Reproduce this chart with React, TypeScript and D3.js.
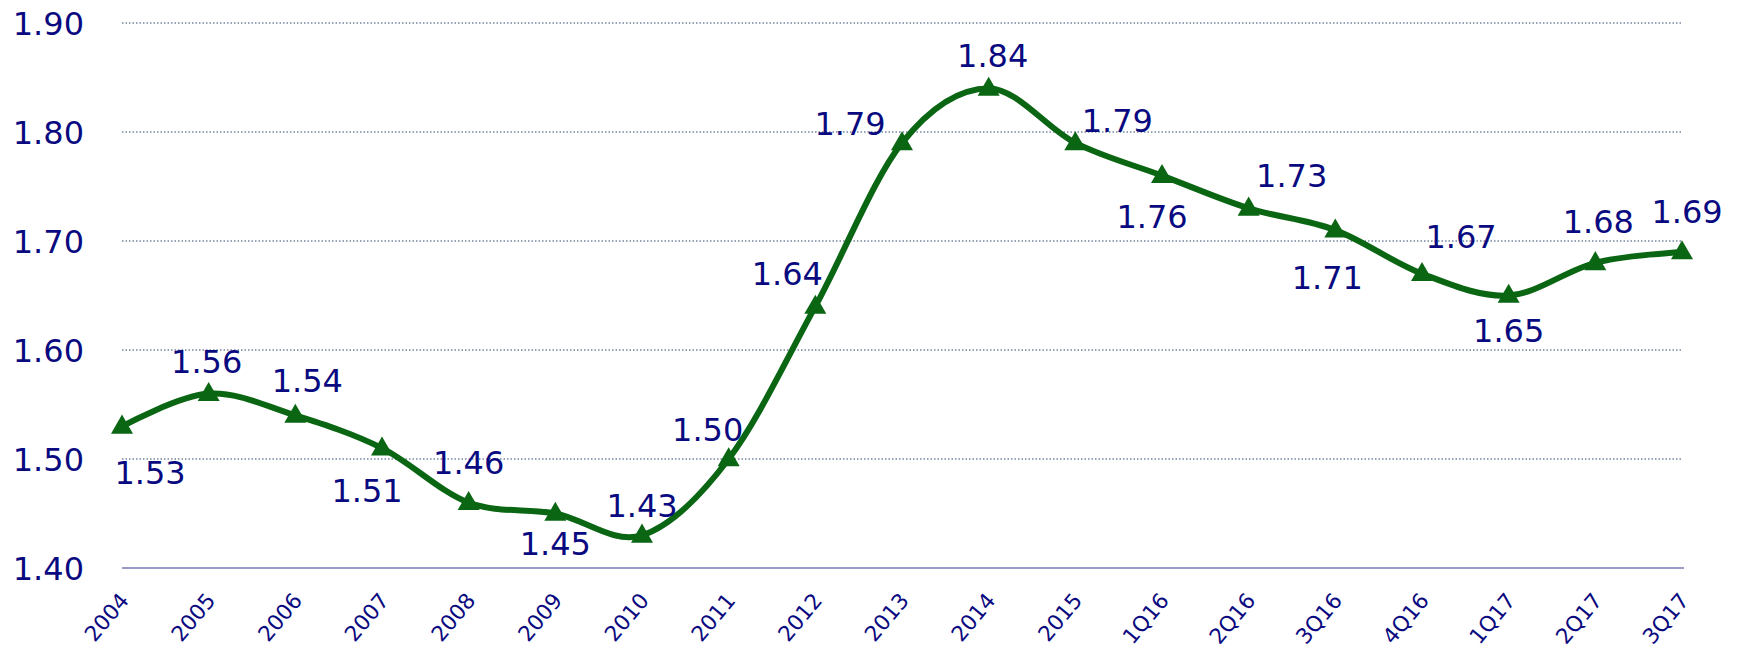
import React, { useEffect, useRef } from 'react';
import * as d3 from 'd3';

const categories = ['2004', '2005', '2006', '2007', '2008', '2009', '2010', '2011', '2012', '2013', '2014', '2015', '1Q16', '2Q16', '3Q16', '4Q16', '1Q17', '2Q17', '3Q17'];
const values = [1.53, 1.56, 1.54, 1.51, 1.46, 1.45, 1.43, 1.5, 1.64, 1.79, 1.84, 1.79, 1.76, 1.73, 1.71, 1.67, 1.65, 1.68, 1.69];
const yTicks = [1.4, 1.5, 1.6, 1.7, 1.8, 1.9];

// where each data label sits relative to its point (dx, dy)
const labelOffsets: [number, number][] = [
  [28, 46], [-2, -32], [12, -35], [-15, 42], [0, -40], [0, 30], [0, -30], [-21, -30],
  [-28, -33], [-52, -19], [4, -33], [42, -22], [-10, 41], [43, -33], [-8, 47], [39, -37],
  [0, 35], [3, -41], [5, -40],
];

const W = 1739;
const H = 651;
const navy = '#0a0a80';
const green = '#0b6614';
const font = 'DejaVu Sans, Verdana, sans-serif';

export default function App() {
  const ref = useRef<SVGSVGElement>(null);

  useEffect(() => {
    document.body.style.margin = '0';
    const svg = d3.select(ref.current);
    svg.selectAll('*').remove();

    const x = d3.scalePoint<string>().domain(categories).range([122, 1682]);
    const y = d3.scaleLinear().domain([1.4, 1.9]).range([568, 23]);

    // gridlines
    svg.append('g')
      .selectAll('line')
      .data(yTicks.slice(1))
      .enter()
      .append('line')
      .attr('x1', 122)
      .attr('x2', 1682)
      .attr('y1', (d) => y(d))
      .attr('y2', (d) => y(d))
      .style('stroke', '#7585a0')
      .style('stroke-width', 1.4)
      .style('stroke-dasharray', '1.5,2');

    // baseline
    svg.append('line')
      .attr('x1', 122)
      .attr('x2', 1684)
      .attr('y1', y(1.4))
      .attr('y2', y(1.4))
      .style('stroke', '#9a9ac8')
      .style('stroke-width', 2);

    // y labels
    svg.append('g')
      .selectAll('text')
      .data(yTicks)
      .enter()
      .append('text')
      .attr('x', 84)
      .attr('y', (d) => y(d))
      .attr('dy', '0.36em')
      .attr('text-anchor', 'end')
      .style('font-family', font)
      .style('font-size', 32)
      .style('fill', navy)
      .text((d) => d.toFixed(2));

    // x labels
    svg.append('g')
      .selectAll('text')
      .data(categories)
      .enter()
      .append('text')
      .attr('transform', (d) => `translate(${(x(d) as number) + 8},${601}) rotate(-50)`)
      .attr('text-anchor', 'end')
      .style('font-family', font)
      .style('font-size', 21.5)
      .style('fill', navy)
      .text((d) => d);

    const line = d3
      .line<number>()
      .x((d, i) => x(categories[i]) as number)
      .y((d) => y(d))
      .curve(d3.curveCatmullRom.alpha(0));

    svg.append('path')
      .datum(values)
      .attr('d', line)
      .style('fill', 'none')
      .style('stroke', green)
      .style('stroke-width', 6);

    const tri = d3.symbol().type(d3.symbolTriangle).size(210);
    svg.append('g')
      .selectAll('path')
      .data(values)
      .enter()
      .append('path')
      .attr('d', tri)
      .attr('transform', (d, i) => `translate(${x(categories[i])},${y(d) + 1})`)
      .style('fill', green);

    svg.append('g')
      .selectAll('text')
      .data(values)
      .enter()
      .append('text')
      .attr('x', (d, i) => (x(categories[i]) as number) + labelOffsets[i][0])
      .attr('y', (d, i) => y(d) + labelOffsets[i][1])
      .attr('dy', '0.36em')
      .attr('text-anchor', 'middle')
      .style('font-family', font)
      .style('font-size', 32)
      .style('fill', navy)
      .text((d) => d.toFixed(2));
  }, []);

  return <svg ref={ref} width={W} height={H} style={{ display: 'block', background: '#fff' }} />;
}
